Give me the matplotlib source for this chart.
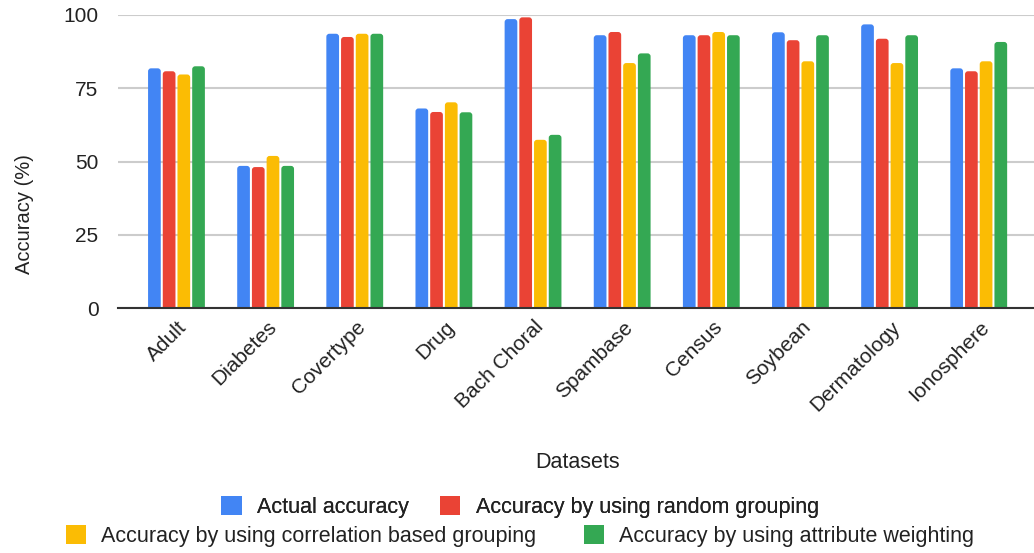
import matplotlib
matplotlib.use("Agg")
import matplotlib.pyplot as plt
from matplotlib.transforms import ScaledTranslation
from matplotlib.patches import FancyBboxPatch
import numpy as np

categories = ["Adult", "Diabetes", "Covertype", "Drug", "Bach Choral",
              "Spambase", "Census", "Soybean", "Dermatology", "Ionosphere"]
actual = [81.8, 48.5, 93.6, 68.1, 98.6, 93.1, 93.1, 94.1, 96.8, 81.8]
random_grouping = [80.8, 48.1, 92.5, 66.9, 99.2, 94.2, 93.1, 91.4, 91.9, 80.8]
correlation_grouping = [79.7, 51.9, 93.6, 70.2, 57.4, 83.6, 94.2, 84.2, 83.6, 84.2]
attribute_weighting = [82.5, 48.5, 93.6, 66.8, 59.1, 86.9, 93.1, 93.1, 93.1, 90.8]
series_names = ["Actual accuracy", "Accuracy by using random grouping",
                "Accuracy by using correlation based grouping",
                "Accuracy by using attribute weighting"]
colors = ["#4285F4", "#EA4335", "#FBBC04", "#34A853"]
yticks = [0, 25, 50, 75, 100]

plt.rcParams['font.family'] = ['Liberation Sans', 'DejaVu Sans']
TXT = '#222222'

W, H = 1034, 553
fig = plt.figure(figsize=(W / 100, H / 100), dpi=100)
ax = fig.add_axes([118 / W, 1 - 308 / H, (W - 118) / W, (308 - 15) / H])

XMIN, XMAX = -0.656, 9.62
ax.set_xlim(XMIN, XMAX)
ax.set_ylim(0, 100)
ax.set_yticks(yticks)

# pixel sizes of one data unit (for rounded bar tops)
px_x = (W - 118) / (XMAX - XMIN)
px_y = (308 - 15) / 100.0
r_px = 3.0

series = [actual, random_grouping, correlation_grouping, attribute_weighting]
x = np.arange(len(categories))
bw = 0.1425
step = 0.165
for i, (vals, c) in enumerate(zip(series, colors)):
    bars = ax.bar(x + (i - 1.5) * step, vals, width=bw, color=c, zorder=3)
    for rect in bars.patches:
        bx, bwid, bh = rect.get_x(), rect.get_width(), rect.get_height()
        fb = FancyBboxPatch((bx, -3), bwid, bh + 3,
                            boxstyle=f"round,pad=0,rounding_size={r_px / px_x}",
                            mutation_aspect=px_x / px_y,
                            facecolor=c, edgecolor='none', zorder=3)
        ax.add_patch(fb)
        rect.set_visible(False)

ax.set_xlim(XMIN, XMAX)
ax.set_ylim(0, 100)
ax.grid(axis='y', color='#cccccc', linewidth=1.5, zorder=0)
for s in ['top', 'right', 'left']:
    ax.spines[s].set_visible(False)
ax.spines['bottom'].set_color('#333333')
ax.spines['bottom'].set_linewidth(1.5)
ax.spines['bottom'].set_zorder(4)
ax.tick_params(axis='both', length=0, labelsize=15, colors=TXT)
ax.tick_params(axis='y', pad=14)
ax.set_xticks(x)
ax.set_xticklabels(categories, rotation=45, ha='right', rotation_mode='anchor')
ax.tick_params(axis='x', pad=4)
off = ScaledTranslation(1 / 100, -4 / 100, fig.dpi_scale_trans)
for lab in ax.get_xticklabels():
    lab.set_transform(lab.get_transform() + off)

fig.text(24 / W, 1 - 214 / H, "Accuracy (%)", rotation=90, fontsize=14.5,
         color=TXT, ha='center', va='center')
fig.text(578 / W, 1 - 463 / H, "Datasets", fontsize=15.5, color=TXT,
         ha='center', va='center')

legend_handles = [plt.Rectangle((0, 0), 1, 1, facecolor=c, edgecolor='none') for c in colors]
common = dict(loc='center', frameon=False, fontsize=15.5, handlelength=0.95,
              handleheight=0.95, handletextpad=0.7, ncol=2, labelcolor=TXT)
leg1 = fig.legend(legend_handles[:2], series_names[:2], bbox_to_anchor=(520 / W, 1 - 507 / H),
                  columnspacing=1.45, **common)
leg2 = fig.legend(legend_handles[2:], series_names[2:], bbox_to_anchor=(520 / W, 1 - 536 / H),
                  columnspacing=2.2, **common)
fig.add_artist(leg1)

fig.savefig("out.png", dpi=100, facecolor='white')
